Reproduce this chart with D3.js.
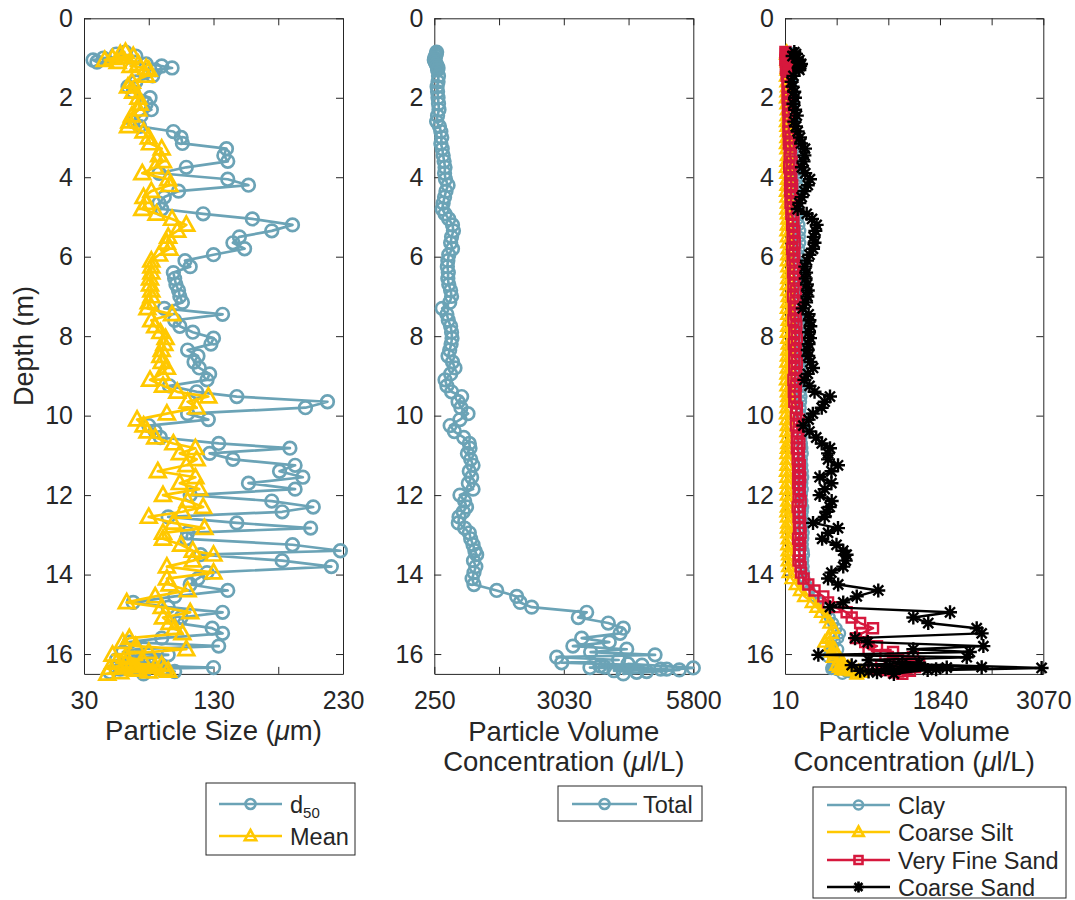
<!DOCTYPE html>
<html>
<head>
<meta charset="utf-8">
<script src="https://cdn.jsdelivr.net/npm/d3@7"></script>
<style>
  body { margin: 0; background: #fff; }
  svg text { font-family: "Liberation Sans", Arial, Helvetica, sans-serif; fill: #262626; }
  .tick text { font-size: 25px; }
  .tick line, .domain { stroke: #262626; stroke-width: 1; }
</style>
</head>
<body>
<svg id="chart" width="1075" height="900"></svg>
<script>
// Profile depths (m), shared by every series
const depth = [
  0.85, 0.9, 0.95, 1.0, 1.05, 1.1, 1.15, 1.2, 1.25, 1.3,
  1.45, 1.6, 1.72, 1.85, 2.0, 2.15, 2.3, 2.45, 2.6, 2.72,
  2.85, 3.0, 3.15, 3.28, 3.45, 3.6, 3.75, 3.9, 4.05, 4.2,
  4.35, 4.5, 4.65, 4.8, 4.92, 5.05, 5.2, 5.35, 5.5, 5.65,
  5.8, 5.95, 6.1, 6.25, 6.4, 6.55, 6.7, 6.85, 7.0, 7.15,
  7.3, 7.45, 7.6, 7.75, 7.9, 8.05, 8.2, 8.35, 8.5, 8.65,
  8.8, 8.95, 9.1, 9.25, 9.4, 9.52, 9.65, 9.8, 9.95, 10.1,
  10.25, 10.4, 10.55, 10.7, 10.82, 10.95, 11.1, 11.25, 11.4, 11.55,
  11.7, 11.85, 12.0, 12.15, 12.3, 12.42, 12.55, 12.7, 12.83, 12.95,
  13.1, 13.25, 13.4, 13.5, 13.65, 13.8, 13.95, 14.1, 14.25, 14.4,
  14.55, 14.7, 14.82, 14.95, 15.08, 15.22, 15.35, 15.48, 15.6, 15.7,
  15.8, 15.88, 15.95, 16.02, 16.08, 16.15, 16.22, 16.28, 16.34, 16.38,
  16.42, 16.46, 16.5, 16.4, 16.33, 16.25, 16.35, 16.44, 16.38, 16.3
];

// Particle size (um)
const d50 = [
  62, 55, 70, 45, 37, 40, 78, 90, 98, 85,
  83, 70, 64, 68, 81, 78, 82, 74, 68, 73,
  99, 105, 106, 140, 138, 141, 109, 88, 141, 157,
  103, 92, 88, 90, 122, 160, 191, 175, 150, 145,
  154, 130, 108, 112, 99, 100, 101, 103, 104, 106,
  92, 137, 100, 104, 114, 130, 128, 110, 118, 115,
  119, 127, 125, 96, 117, 148, 218, 201, 110, 126,
  80, 85, 89, 134, 189, 127, 145, 193, 181, 199,
  157, 193, 112, 175, 207, 183, 95, 148, 205, 110,
  109, 191, 228, 120, 183, 221, 125, 118, 112, 141,
  100, 68, 95, 137, 105, 102, 129, 137, 90, 65,
  134, 70, 60, 95, 72, 55, 85, 62, 130, 58,
  76, 50, 76, 90, 65, 80, 55, 100, 70, 60
];
const meanSize = [
  62, 58, 68, 52, 46, 56, 72, 66, 78, 80,
  78, 67, 64, 68, 72, 73, 72, 67, 65, 64,
  76, 80, 81, 90, 88, 91, 85, 75, 95, 96,
  82, 76, 78, 75, 86, 98, 109, 102, 95, 94,
  96, 88, 82, 82, 82, 81, 81, 82, 82, 80,
  79, 98, 82, 85, 89, 93, 92, 90, 89, 90,
  94, 90, 81, 91, 102, 126, 110, 117, 94, 71,
  76, 79, 85, 99, 116, 104, 117, 109, 87, 116,
  104, 119, 91, 110, 122, 106, 80, 99, 123, 91,
  91, 105, 114, 130, 114, 94, 130, 94, 96, 110,
  85, 63, 90, 112, 91, 96, 100, 106, 65, 60,
  70, 109, 80, 52, 62, 75, 55, 90, 60, 68,
  95, 58, 48, 72, 85, 62, 50, 80, 92, 66
];

// Particle volume concentration (ul/L)
const totalConc = [
  300, 290, 280, 260, 250, 270, 290, 310, 330, 320,
  340, 330, 310, 320, 330, 340, 350, 320, 300, 360,
  390, 410, 390, 420, 440, 460, 480, 470, 490, 545,
  500, 470, 440, 420, 480, 560, 640, 660, 620, 600,
  640, 560, 540, 530, 550, 540, 560, 600, 620, 580,
  420, 520, 550, 600, 620, 630, 610, 580, 545, 640,
  693, 600, 480, 520, 620, 836, 760, 820, 972, 800,
  590, 680, 880, 1000, 1015, 960, 1030, 1080, 1000, 1050,
  980, 1080, 800, 900, 940, 870, 780, 765, 900, 1000,
  1030, 1080, 1120, 1158, 1090, 1140, 1100, 1060, 1100, 1587,
  2016, 2090, 2337, 3515, 3336, 3978, 4300, 4230, 3408, 4000,
  3220, 4373, 3600, 4980, 2873, 4200, 2980, 4700, 3586, 5230,
  4100, 4587, 4300, 5500, 3900, 4400, 5800, 4800, 5100, 3800
];
const clay = [
  60, 55, 70, 80, 65, 75, 85, 70, 60, 75,
  70, 80, 85, 90, 95, 100, 95, 100, 110, 105,
  115, 120, 125, 130, 150, 140, 160, 165, 150, 155,
  160, 150, 140, 145, 155, 165, 180, 190, 185, 190,
  180, 170, 160, 165, 160, 170, 175, 180, 170, 175,
  165, 175, 180, 185, 190, 180, 185, 190, 185, 195,
  190, 185, 180, 190, 195, 205, 200, 195, 190, 210,
  220, 215, 205, 210, 215, 220, 210, 215, 220, 225,
  215, 220, 210, 215, 225, 220, 215, 225, 220, 230,
  225, 220, 230, 235, 225, 230, 235, 240, 260, 300,
  360, 420, 470, 504, 540, 580, 620, 662, 640, 600,
  560, 640, 543, 600, 520, 580, 620, 700, 560, 650,
  720, 780, 690, 620, 580, 660, 600, 740, 560, 640
];
const coarseSilt = [
  30, 25, 35, 40, 30, 35, 45, 40, 35, 30,
  25, 30, 35, 30, 25, 30, 35, 30, 25, 30,
  35, 30, 25, 30, 35, 30, 25, 30, 35, 30,
  25, 30, 35, 30, 35, 40, 35, 30, 35, 40,
  45, 40, 35, 40, 45, 40, 35, 40, 45, 40,
  35, 40, 45, 40, 35, 40, 45, 40, 35, 30,
  35, 30, 25, 30, 35, 40, 35, 30, 25, 30,
  35, 30, 35, 40, 35, 30, 35, 30, 25, 30,
  35, 30, 35, 40, 35, 30, 35, 40, 35, 40,
  45, 40, 45, 50, 45, 50, 55, 90, 140, 190,
  240, 330, 385, 440, 504, 540, 583, 560, 520, 480,
  540, 600, 560, 620, 580, 650, 700, 620, 760, 680,
  800, 917, 860, 720, 650, 700, 780, 880, 740, 660
];
const veryFineSand = [
  15, 20, 25, 20, 15, 25, 30, 25, 20, 25,
  30, 45, 40, 55, 40, 60, 45, 65, 50, 60,
  50, 75, 55, 80, 65, 90, 60, 85, 70, 95,
  70, 90, 75, 100, 85, 110, 95, 120, 100, 125,
  95, 120, 100, 130, 105, 125, 110, 140, 105, 135,
  115, 140, 110, 145, 120, 150, 115, 140, 120, 150,
  120, 145, 110, 140, 115, 135, 120, 150, 140, 175,
  140, 170, 150, 180, 150, 175, 160, 185, 165, 190,
  165, 185, 170, 195, 160, 185, 170, 190, 175, 195,
  165, 190, 175, 185, 170, 195, 200, 230, 286, 360,
  464, 520, 600, 740, 800, 900, 1053, 920, 850, 960,
  1100, 1000, 1290, 1200, 1525, 1350, 1600, 1150, 1400, 1050,
  1490, 1300, 1400, 1200, 1550, 1250, 1450, 1350, 1100, 1500
];
const coarseSand = [
  120, 140, 100, 150, 180, 160, 200, 190, 170, 180,
  110, 89, 100, 120, 128, 110, 130, 150, 120, 140,
  160, 188, 200, 247, 240, 230, 210, 250, 306, 280,
  240, 207, 180, 160, 267, 330, 385, 370, 350, 360,
  342, 300, 270, 250, 260, 255, 270, 280, 275, 260,
  220, 290, 300, 310, 295, 306, 290, 280, 286, 310,
  342, 280, 240, 300, 360, 543, 480, 445, 340, 290,
  227, 300, 380, 445, 543, 520, 520, 638, 560, 420,
  560, 480, 420, 563, 540, 500, 480, 342, 638, 520,
  450, 620, 700, 740, 730, 700, 560, 520, 640, 1115,
  860, 700, 543, 1965, 1530, 1707, 2281, 2340, 840, 990,
  2360, 1530, 2200, 405, 2163, 1000, 1600, 800, 1926, 1200,
  900, 1100, 1300, 1700, 2340, 1400, 3050, 1000, 1800, 1250
];

// Axis ticks and labels
const depthTicks = [0, 2, 4, 6, 8, 10, 12, 14, 16];
const sizeTicks = [30, 80, 130, 180, 230];
const sizeTickLabels = ["30", "", "130", "", "230"];
const totalTicks = [250, 1637.5, 3025, 4412.5, 5800];
const totalTickLabels = ["250", "", "3030", "", "5800"];
const fracTicks = [10, 622, 1234, 1846, 2458, 3070];
const fracTickLabels = ["10", "", "", "1840", "", "3070"];

const TEAL = "#6ba3b6", GOLD = "#ffc800", RED = "#d6183d", BLACK = "#000000";

const svg = d3.select("#chart");
const y = d3.scaleLinear().domain([0, 16.5]).range([18.3, 673.9]);

// Marker shapes (MATLAB-style, unfilled)
function markerPath(type, s) {
  switch (type) {
    case "circle": return d3.symbol(d3.symbolCircle).size(Math.PI * s * s)();
    case "triangle": return `M0,${-s}L${s * 0.95},${s * 0.7}L${-s * 0.95},${s * 0.7}Z`;
    case "square": return `M${-s},${-s}H${s}V${s}H${-s}Z`;
    case "star": {
      const k = s * 0.72;
      return `M${-s},0H${s}M0,${-s}V${s}M${-k},${-k}L${k},${k}M${-k},${k}L${k},${-k}`;
    }
  }
}

function drawPanel(opt) {
  const x = d3.scaleLinear().domain(opt.domain).range([opt.left, opt.right]);
  const [top, bottom] = y.range();
  const g = svg.append("g");

  g.append("g").attr("transform", `translate(0,${bottom})`)
    .call(d3.axisBottom(x).tickValues(opt.ticks).tickFormat((d, i) => opt.tickLabels[i])
      .tickSizeInner(-7).tickSizeOuter(0).tickPadding(17));
  g.append("g").attr("transform", `translate(0,${top})`)
    .call(d3.axisTop(x).tickValues(opt.ticks).tickFormat("")
      .tickSizeInner(-7).tickSizeOuter(0));
  g.append("g").attr("transform", `translate(${opt.left},0)`)
    .call(d3.axisLeft(y).tickValues(depthTicks).tickFormat(d3.format("d"))
      .tickSizeInner(-7).tickSizeOuter(0).tickPadding(11));
  g.append("g").attr("transform", `translate(${opt.right},0)`)
    .call(d3.axisRight(y).tickValues(depthTicks).tickFormat("")
      .tickSizeInner(-7).tickSizeOuter(0));
  g.selectAll(".domain").attr("stroke", "#262626");
  g.selectAll(".tick line").attr("stroke", "#262626");
  g.selectAll("g").attr("font-family", null).attr("font-size", null);

  // x-axis title lines
  const cx = (opt.left + opt.right) / 2;
  opt.title.forEach((line, i) => {
    const t = g.append("text").attr("x", cx).attr("y", opt.titleY[i])
      .attr("text-anchor", "middle").style("font-size", "27.5px");
    line.forEach(part => {
      const ts = t.append("tspan").text(part.t);
      if (part.it) ts.style("font-style", "italic");
    });
  });

  // series
  const line = d3.line().x(v => x(v)).y((v, i) => y(depth[i]));
  opt.series.forEach(s => {
    const sg = g.append("g");
    sg.append("path").datum(s.values).attr("d", line)
      .attr("fill", "none").attr("stroke", s.color).attr("stroke-width", s.lw)
      .attr("stroke-linejoin", "round");
    sg.selectAll("path.m").data(s.values).join("path").attr("class", "m")
      .attr("d", markerPath(s.marker, s.ms))
      .attr("transform", (v, i) => `translate(${x(v)},${y(depth[i])})`)
      .attr("fill", "none").attr("stroke", s.color).attr("stroke-width", s.mlw || s.lw);
  });
}

function drawLegend(opt) {
  const g = svg.append("g");
  g.append("rect").attr("x", opt.x).attr("y", opt.y).attr("width", opt.w).attr("height", opt.h)
    .attr("fill", "#fff").attr("stroke", "#262626").attr("stroke-width", 1);
  opt.rows.forEach((r, i) => {
    const ry = opt.rowY[i];
    g.append("line").attr("x1", opt.lx0).attr("x2", opt.lx1).attr("y1", ry).attr("y2", ry)
      .attr("stroke", r.color).attr("stroke-width", r.lw);
    g.append("path").attr("d", markerPath(r.marker, r.ms))
      .attr("transform", `translate(${(opt.lx0 + opt.lx1) / 2},${ry})`)
      .attr("fill", "none").attr("stroke", r.color).attr("stroke-width", r.lw);
    const t = g.append("text").attr("x", opt.tx).attr("y", ry + 8.5).style("font-size", "23.5px");
    t.append("tspan").text(r.label);
    if (r.sub) t.append("tspan").text(r.sub).attr("dy", 5).style("font-size", "15px");
  });
}

// Panel 1: particle size
drawPanel({
  left: 84, right: 343, domain: [30, 230], ticks: sizeTicks, tickLabels: sizeTickLabels,
  title: [[{ t: "Particle Size (" }, { t: "μ", it: true }, { t: "m)" }]], titleY: [740],
  series: [
    { values: d50, color: TEAL, marker: "circle", ms: 6.3, lw: 2.7 },
    { values: meanSize, color: GOLD, marker: "triangle", ms: 8.3, lw: 2.7 }
  ]
});

// Panel 2: total concentration
drawPanel({
  left: 434.3, right: 693.3, domain: [250, 5800], ticks: totalTicks, tickLabels: totalTickLabels,
  title: [[{ t: "Particle Volume" }], [{ t: "Concentration (" }, { t: "μ", it: true }, { t: "l/L)" }]],
  titleY: [741, 771],
  series: [
    { values: totalConc, color: TEAL, marker: "circle", ms: 6.3, lw: 2.7 }
  ]
});

// Panel 3: concentration by size class
drawPanel({
  left: 785, right: 1043.3, domain: [10, 3070], ticks: fracTicks, tickLabels: fracTickLabels,
  title: [[{ t: "Particle Volume" }], [{ t: "Concentration (" }, { t: "μ", it: true }, { t: "l/L)" }]],
  titleY: [741, 771],
  series: [
    { values: clay, color: TEAL, marker: "circle", ms: 5, lw: 2.4 },
    { values: coarseSilt, color: GOLD, marker: "triangle", ms: 6.5, lw: 2.4 },
    { values: veryFineSand, color: RED, marker: "square", ms: 5, lw: 2.4 },
    { values: coarseSand, color: BLACK, marker: "star", ms: 7, lw: 2.4 }
  ]
});

// Legends
drawLegend({
  x: 206, y: 783, w: 149, h: 72, lx0: 219, lx1: 282, tx: 290, rowY: [804, 836],
  rows: [
    { label: "d", sub: "50", color: TEAL, marker: "circle", ms: 5, lw: 2.6 },
    { label: "Mean", color: GOLD, marker: "triangle", ms: 6, lw: 2.6 }
  ]
});
drawLegend({
  x: 558, y: 786, w: 144, h: 35, lx0: 572, lx1: 637, tx: 643, rowY: [804],
  rows: [
    { label: "Total", color: TEAL, marker: "circle", ms: 5, lw: 2.6 }
  ]
});
drawLegend({
  x: 813, y: 787, w: 253, h: 111, lx0: 827, lx1: 890, tx: 898, rowY: [805, 832, 860, 887],
  rows: [
    { label: "Clay", color: TEAL, marker: "circle", ms: 4.5, lw: 2.6 },
    { label: "Coarse Silt", color: GOLD, marker: "triangle", ms: 5.5, lw: 2.6 },
    { label: "Very Fine Sand", color: RED, marker: "square", ms: 4, lw: 2.6 },
    { label: "Coarse Sand", color: BLACK, marker: "star", ms: 5.5, lw: 2.6 }
  ]
});

// Shared y-axis title
svg.append("text").attr("transform", `translate(33,346) rotate(-90)`)
  .attr("text-anchor", "middle").style("font-size", "27px").text("Depth (m)");
</script>
</body>
</html>
